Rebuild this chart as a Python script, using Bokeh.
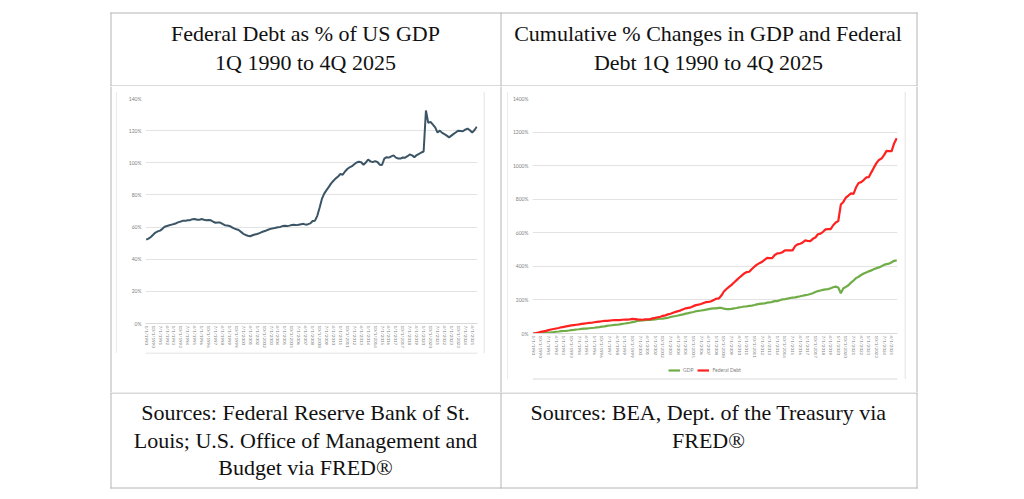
from bokeh.plotting import figure
from bokeh.layouts import column, row
from bokeh.models import Range1d, FixedTicker, Legend, LegendItem
from bokeh.core.properties import value
from bokeh.embed import file_html
from bokeh.resources import INLINE

# ---------------- data ----------------
tick_labels = [
    "1/1/1990", "10/1/1990", "7/1/1991", "4/1/1992", "1/1/1993", "10/1/1993",
    "7/1/1994", "4/1/1995", "1/1/1996", "10/1/1996", "7/1/1997", "4/1/1998",
    "1/1/1999", "10/1/1999", "7/1/2000", "4/1/2001", "1/1/2002", "10/1/2002",
    "7/1/2003", "4/1/2004", "1/1/2005", "10/1/2005", "7/1/2006", "4/1/2007",
    "1/1/2008", "10/1/2008", "7/1/2009", "4/1/2010", "1/1/2011", "10/1/2011",
    "7/1/2012", "4/1/2013", "1/1/2014", "10/1/2014", "7/1/2015", "4/1/2016",
    "1/1/2017", "10/1/2017", "7/1/2018", "4/1/2019", "1/1/2020", "10/1/2020",
    "7/1/2021", "4/1/2022", "1/1/2023", "10/1/2023", "7/1/2024", "4/1/2025",
]

# Federal debt as % of GDP, quarterly 1Q1990 .. 4Q2025
debt_pct_gdp = [
    52.2, 52.8, 53.8, 55.2,   56.6, 57.3, 57.8, 58.9,   60.2, 60.7, 61.1, 61.5,
    61.9, 62.4, 63.1, 63.5,   64.0, 63.9, 64.2, 64.3,   64.9, 65.0, 64.6, 64.5,
    65.0, 64.6, 64.3, 64.4,   64.2, 63.3, 62.7, 62.8,   62.8, 62.0, 61.2, 61.0,
    60.7, 59.9, 59.2, 58.6,   58.2, 57.0, 55.8, 55.1,   54.6, 54.3, 54.9, 55.4,
    55.7, 56.2, 56.9, 57.4,   57.9, 58.5, 59.0, 59.2,   59.6, 59.9, 60.1, 60.6,
    60.8, 60.6, 60.9, 61.3,   61.5, 61.2, 61.5, 61.8,   62.0, 61.5, 61.8, 62.3,
    63.8, 64.0, 67.0, 72.0,   77.5, 80.8, 83.0, 85.0,   87.2, 88.8, 90.3, 91.5,
    93.0, 92.6, 94.6, 96.1,   97.2, 97.9, 99.1, 100.2,  100.6, 100.3, 98.8, 100.2,
    102.0, 100.9, 100.4, 101.0, 100.5, 98.8, 98.6, 102.6, 103.5, 103.2, 104.0, 104.6,
    103.2, 102.7, 102.6, 103.3, 103.2, 104.1, 105.2, 104.6, 103.5, 104.8, 105.6, 106.4,
    107.0, 132.5, 124.8, 125.5, 123.8, 122.0, 118.8, 120.0, 118.6, 117.8, 116.9, 115.8,
    116.9, 118.0, 119.0, 120.0, 119.8, 119.6, 120.6, 121.3, 120.2, 118.8, 120.4, 122.4,
]

# Cumulative % change in GDP since 1Q1990
gdp_cum_pct = [
    0, 1.5, 2.4, 2.2,   2.8, 4.3, 5.7, 6.7,   8.4, 10.4, 12.0, 14.0,
    14.9, 16.2, 17.7, 19.8,   21.5, 23.8, 25.2, 27.3,   28.5, 29.5, 31.2, 32.8,
    34.4, 36.6, 38.5, 40.7,   42.4, 45.1, 47.5, 49.3,   51.0, 52.3, 54.4, 57.5,
    59.5, 61.6, 64.0, 67.8,   70.8, 75.0, 77.0, 78.3,   79.0, 81.2, 81.2, 82.2,
    84.5, 86.2, 88.0, 89.1,   91.2, 93.6, 98.0, 101.3,  104.2, 107.3, 110.7, 113.9,
    118.2, 121.0, 124.9, 127.9, 132.4, 135.0, 136.9, 139.6, 142.4, 145.6, 148.1, 150.1,
    149.8, 152.3, 152.8, 147.8, 144.9, 145.0, 147.0, 150.0, 152.0, 155.4, 158.0, 160.7,
    161.4, 165.0, 166.5, 169.8, 173.6, 176.0, 177.9, 179.6, 183.5, 184.9, 188.7, 192.8,
    192.9, 198.3, 203.2, 205.0, 207.6, 211.3, 214.2, 215.5, 218.6, 221.7, 225.1, 228.3,
    231.0, 235.4, 240.0, 246.7, 252.6, 256.3, 259.5, 262.6, 264.2, 269.6, 275.5, 279.0,
    274.0, 239.5, 269.7, 277.3, 287.3, 303.1, 315.3, 330.0, 338.1, 348.4, 357.3, 363.9,
    370.2, 375.9, 383.6, 389.2, 393.8, 401.2, 408.8, 413.8, 416.1, 424.5, 433.0, 436.0,
]

# Cumulative % change in Federal Debt since 1Q1990
debt_cum_pct = [
    0, 3, 6, 10,   13, 16, 20, 24,   27, 30, 33, 37,
    39, 42, 45, 48,   50, 52, 54, 57,   59, 61, 63, 64,
    67, 69, 71, 73,   75, 75, 77, 79,   80, 80, 80, 82,
    83, 83, 84, 87,   86, 84, 83, 82,   84, 84, 86, 90,
    93, 97, 100, 105,   108, 114, 118, 124,   129, 133, 138, 144,
    150, 153, 156, 163,   169, 172, 176, 182,   187, 188, 192, 200,
    207, 209, 226, 250,   265, 278, 290, 304,   318, 332, 345, 358,
    366, 368, 384, 398,   410, 419, 427, 439,   450, 449, 449, 468,
    477, 478, 484, 495,   495, 495, 495, 520,   531, 535, 542, 555,
    551, 550, 564, 572,   591, 595, 606, 620,   622, 622, 645, 661,
    670, 768, 784, 810,   822, 835, 832, 871,   897, 902, 914, 930,
    931, 960, 988, 1015,   1034, 1042, 1063, 1088,   1087, 1087, 1134, 1163,
]

series_names = ["GDP", "Federal Debt"]

left_title = ["Federal Debt as % of US GDP", "1Q 1990 to 4Q 2025"]
right_title = ["Cumulative % Changes in GDP and Federal", "Debt 1Q 1990 to 4Q 2025"]
left_source = ["Sources: Federal Reserve Bank of St.",
               "Louis; U.S. Office of Management and",
               "Budget via FRED\u00ae"]
right_source = ["Sources: BEA, Dept. of the Treasury via", "FRED\u00ae"]

# ---------------- styling ----------------
TABLE = "#b4b4b4"
BOX = "#d9d9d9"
SERIF = value("Liberation Serif")
SMALL = "Lato"
LBL = "#7f7f7f"
GREEN = "#70AD47"
RED = "#FF2020"

x_idx = list(range(len(debt_pct_gdp)))
tick_pos = [i * 3 for i in range(len(tick_labels))]
NAN = float("nan")


def blank(w, h):
    f = figure(width=w, height=h, x_range=Range1d(0, w), y_range=Range1d(h, 0),
               output_backend="svg", toolbar_location=None, min_border=0,
               x_axis_type=None, y_axis_type=None, title=None)
    f.outline_line_color = None
    f.background_fill_color = "white"
    f.border_fill_color = "white"
    return f


def seg(f, x0, y0, x1, y1, color):
    f.segment(x0=[x0], y0=[y0], x1=[x1], y1=[y1], line_color=color, line_width=1)


def lines_text(f, xc, ys, texts):
    f.text(x=[xc] * len(texts), y=ys, text=texts, text_align="center",
           text_baseline="middle", text_font=SERIF, text_font_size="22px",
           text_color="#111111")


def style_chart(p, yticks):
    p.outline_line_color = None
    p.background_fill_color = "white"
    p.border_fill_color = "white"
    p.xgrid.grid_line_color = None
    p.ygrid.grid_line_color = "#e3e3e3"
    p.ygrid.ticker = FixedTicker(ticks=yticks)
    p.yaxis.ticker = FixedTicker(ticks=yticks)
    p.yaxis.major_label_overrides = {t: f"{t}%" for t in yticks}
    p.yaxis.axis_line_color = None
    p.yaxis.major_tick_line_color = None
    p.yaxis.minor_tick_line_color = None
    p.yaxis.major_tick_out = 0
    p.yaxis.major_tick_in = 0
    p.yaxis.major_label_standoff = 4
    p.yaxis.major_label_text_font_size = "5px"
    p.yaxis.major_label_text_font = SMALL
    p.yaxis.major_label_text_color = LBL
    p.xaxis.ticker = FixedTicker(ticks=tick_pos)
    p.xaxis.major_label_overrides = {t: l for t, l in zip(tick_pos, tick_labels)}
    p.xaxis.major_label_orientation = "vertical"
    p.xaxis.axis_line_color = BOX
    p.xaxis.major_tick_line_color = None
    p.xaxis.minor_tick_line_color = None
    p.xaxis.major_tick_out = 0
    p.xaxis.major_tick_in = 0
    p.xaxis.major_label_standoff = 2
    p.xaxis.major_label_text_font_size = "4.5px"
    p.xaxis.major_label_text_font = SMALL
    p.xaxis.major_label_text_color = LBL


# ---------------- header row ----------------
head = blank(1024, 86)
seg(head, 110, 12.5, 917, 12.5, TABLE)
seg(head, 110, 85.5, 917, 85.5, TABLE)
for xv in (110.5, 500.5, 916.5):
    seg(head, xv, 12, xv, 86, TABLE)
lines_text(head, 305, [33, 62], left_title)
lines_text(head, 708, [33, 62], right_title)

# ---------------- chart row ----------------
padA = blank(117, 306)
seg(padA, 110.5, 0, 110.5, 306, TABLE)
seg(padA, 116.5, 5.5, 116.5, 266.5, BOX)

topL = blank(366, 6)
seg(topL, 0, 5.5, 366, 5.5, BOX)
botL = blank(366, 40)
seg(botL, 0, 0.5, 366, 0.5, BOX)

pL = figure(width=366, height=260, x_range=Range1d(-0.3, 143.3), y_range=Range1d(0, 140),
            output_backend="svg", toolbar_location=None, title=None,
            min_border_left=28, min_border_right=6, min_border_top=6, min_border_bottom=29)
pL.line(x_idx, debt_pct_gdp, line_color="#3B5566", line_width=2)
style_chart(pL, list(range(0, 141, 20)))

padB = blank(25, 306)
seg(padB, 0.5, 5.5, 0.5, 266.5, BOX)
seg(padB, 17.5, 0, 17.5, 306, TABLE)
seg(padB, 24.5, 5.5, 24.5, 292.5, BOX)

topR = blank(396, 6)
seg(topR, 0, 5.5, 396, 5.5, BOX)

# right chart: page y 92 -> 360 (frame 98 -> 335)
pR = figure(width=396, height=268, x_range=Range1d(-0.3, 143.3), y_range=Range1d(0, 1400),
            output_backend="svg", toolbar_location=None, title=None,
            min_border_left=24, min_border_right=7, min_border_top=6, min_border_bottom=25)
rg = pR.line(x_idx, gdp_cum_pct, line_color=GREEN, line_width=2.2)
rd = pR.line(x_idx, debt_cum_pct, line_color=RED, line_width=2.2)
style_chart(pR, list(range(0, 1401, 200)))

# legend strip of the right chart: page y 360 -> 392 (chart box bottom at 378)
legR = blank(396, 32)
lg_g = legR.line(x=[NAN], y=[NAN], line_color=GREEN, line_width=2.2)
lg_r = legR.line(x=[NAN], y=[NAN], line_color=RED, line_width=2.2)
leg = Legend(items=[LegendItem(label=series_names[0], renderers=[lg_g]),
                    LegendItem(label=series_names[1], renderers=[lg_r])],
             orientation="horizontal", location=(136, 19),
             label_text_font_size="5px", label_text_font=SMALL, label_text_color=LBL,
             glyph_width=12, glyph_height=6, label_height=6, label_width=10, spacing=4,
             padding=0, margin=0, border_line_color=None, background_fill_alpha=0,
             label_standoff=3)
legR.add_layout(leg)
seg(legR, 0, 18.5, 396, 18.5, BOX)

padC = blank(120, 306)
seg(padC, 0.5, 5.5, 0.5, 292.5, BOX)
seg(padC, 12.5, 0, 12.5, 306, TABLE)

mid = row(padA, column(topL, pL, botL), padB, column(topR, pR, legR), padC)

# ---------------- footer row ----------------
foot = blank(1024, 107)
seg(foot, 110, 0.5, 917, 0.5, TABLE)
seg(foot, 110, 95.5, 917, 95.5, TABLE)
for xv in (110.5, 500.5, 916.5):
    seg(foot, xv, 0, xv, 96, TABLE)
lines_text(foot, 305, [20, 48, 75], left_source)
lines_text(foot, 708, [20, 48], right_source)

layout = column(head, mid, foot)

open("out.html", "w").write(file_html(layout, INLINE))
